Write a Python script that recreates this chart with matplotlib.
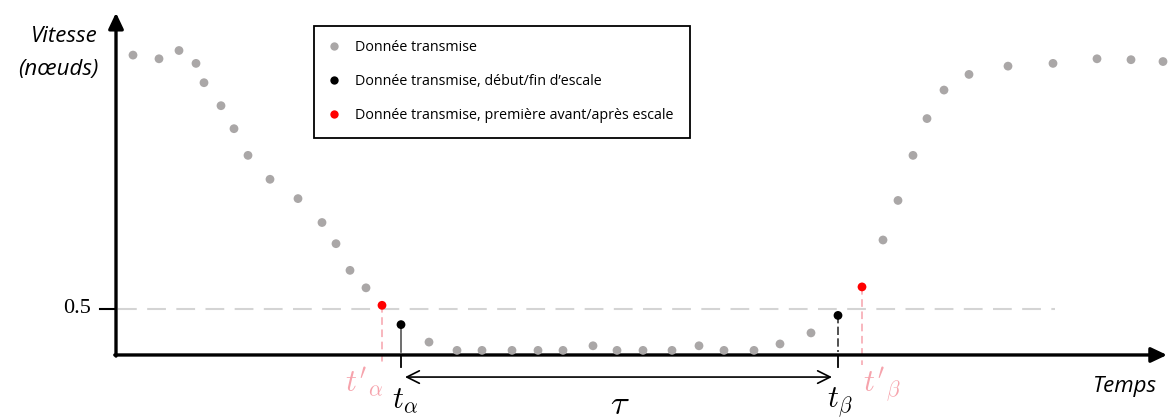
import matplotlib
matplotlib.use('Agg')
import matplotlib.pyplot as plt
from matplotlib.lines import Line2D

plt.rcParams['mathtext.fontset'] = 'cm'

# ---------------- data ----------------
# time (arbitrary minutes) and speed (knots)
t_transmis = [1.7, 4.3, 6.3, 8.0, 8.8, 10.5, 11.8, 13.2, 15.4, 18.2, 20.6, 22.0, 23.4, 25.0,
              31.3, 34.1, 36.6, 39.6, 42.2, 44.7, 47.7, 50.1, 52.7, 55.6, 58.3, 60.8, 63.8, 66.4, 69.5,
              76.7, 78.2, 79.7, 81.1, 82.8, 85.3, 89.2, 93.7, 98.1, 101.5, 104.7]
v_transmis = [3.26, 3.22, 3.31, 3.17, 2.96, 2.71, 2.46, 2.17, 1.91, 1.70, 1.44, 1.21, 0.92, 0.73,
              0.14, 0.05, 0.05, 0.05, 0.05, 0.05, 0.10, 0.05, 0.05, 0.05, 0.10, 0.05, 0.05, 0.12, 0.24,
              1.25, 1.68, 2.17, 2.57, 2.88, 3.05, 3.14, 3.17, 3.22, 3.21, 3.19]
t_escale = [28.5, 72.2]
v_escale = [0.33, 0.43]
t_premiere = [26.6, 74.6]
v_premiere = [0.54, 0.74]
seuil = 0.5
y_tick_labels = ['0.5']
legend_labels = ['Donnée transmise',
                 'Donnée transmise, début/fin d\u2019escale',
                 'Donnée transmise, première avant/après escale']
label_escale = [r'$t_{\alpha}$', r'$t_{\beta}$']
label_premiere = [r"$t'_{\alpha}$", r"$t'_{\beta}$"]
label_duree = r'$\tau$'

# ---------------- style ----------------
GRAY = '#aaa7a7'
PINK = '#f6a3ac'
SANS = ['Open Sans', 'DejaVu Sans']

fig = plt.figure(figsize=(11.68, 4.19), dpi=100)
ax = fig.add_axes([0, 0, 1, 1])
ax.set_xlim(-11.6, 105.2)
ax.set_ylim(-0.696, 3.859)
ax.axis('off')

# axes with arrows
ax.annotate('', xy=(0, 3.72), xytext=(0, -0.012),
            arrowprops=dict(arrowstyle='-|>,head_length=0.95,head_width=0.45',
                            lw=2.4, color='black', shrinkA=0, shrinkB=0))
ax.annotate('', xy=(105.1, 0), xytext=(-0.12, 0),
            arrowprops=dict(arrowstyle='-|>,head_length=0.95,head_width=0.45',
                            lw=2.4, color='black', shrinkA=0, shrinkB=0))

# threshold
ax.plot([0.15, 93.9], [seuil, seuil], color='#d4d4d4', lw=1.5, dashes=(9, 5), zorder=1)
ax.plot([-1.6, 0], [seuil, seuil], color='black', lw=1.5)
ax.text(-2.5, seuil, y_tick_labels[0], ha='right', va='center', fontsize=16,
        family=['Liberation Serif', 'DejaVu Serif'])

# vertical markers
ax.plot([t_premiere[0]] * 2, [v_premiere[0], -0.11], color=PINK, lw=1.1, dashes=(5, 3), zorder=1)
ax.plot([t_premiere[1]] * 2, [v_premiere[1], -0.11], color=PINK, lw=1.1, dashes=(5, 3), zorder=1)
ax.plot([t_escale[0]] * 2, [v_escale[0], 0.03], color='#555555', lw=1.2, zorder=1)
ax.plot([t_escale[1]] * 2, [v_escale[1], 0.03], color='#333333', lw=1.2, dashes=(5, 2), zorder=1)
for t in t_escale:
    ax.plot([t, t], [0, -0.13], color='black', lw=1.3)

# points
ax.scatter(t_transmis, v_transmis, s=40, color=GRAY, edgecolors='none', zorder=3)
ax.scatter(t_escale, v_escale, s=40, color='black', edgecolors='none', zorder=3)
ax.scatter(t_premiere, v_premiere, s=40, color='#ff0000', edgecolors='none', zorder=3)

# duration arrow
ax.annotate('', xy=(t_escale[1] - 0.6, -0.24), xytext=(t_escale[0] + 0.4, -0.24),
            arrowprops=dict(arrowstyle='<->,head_length=0.9,head_width=0.45',
                            lw=1.2, color='black', shrinkA=0, shrinkB=0))
ax.text((t_escale[0] + t_escale[1]) / 2, -0.535, label_duree, ha='center', va='center', fontsize=25)

# labels
ax.text(t_premiere[0] + 0.1, -0.30, label_premiere[0], ha='right', va='center', fontsize=22, color=PINK)
ax.text(t_premiere[1] + 0.1, -0.32, label_premiere[1], ha='left', va='center', fontsize=22, color=PINK)
ax.text(t_escale[0] + 0.4, -0.50, label_escale[0], ha='center', va='center', fontsize=22)
ax.text(t_escale[1] + 0.2, -0.51, label_escale[1], ha='center', va='center', fontsize=22)

ax.text(0.084, 1 - 37 / 419, 'Vitesse', transform=ax.transAxes, ha='right', va='center',
        fontsize=16, style='italic', family=SANS)
ax.text(0.084, 1 - 70 / 419, '(nœuds)', transform=ax.transAxes, ha='right', va='center',
        fontsize=16, style='italic', family=SANS)
ax.text(1157 / 1168, 1 - 386 / 419, 'Temps', transform=ax.transAxes, ha='right', va='center',
        fontsize=16, style='italic', family=SANS)

# legend
handles = [Line2D([], [], ls='none', marker='o', ms=6, color=c, mec='none')
           for c in (GRAY, 'black', '#ff0000')]
leg = ax.legend(handles, legend_labels, loc='upper left',
                bbox_to_anchor=(314 / 1168, 1 - 26 / 419, (690 - 314) / 1168, 0),
                mode='expand', borderaxespad=0, frameon=True, fancybox=False,
                framealpha=1, edgecolor='black', handlelength=0.85, handletextpad=1.0,
                borderpad=1.0, labelspacing=1.33, numpoints=1,
                prop={'family': SANS, 'size': 10.3})
leg.get_frame().set_linewidth(1.3)

fig.savefig('out.png', dpi=100)
